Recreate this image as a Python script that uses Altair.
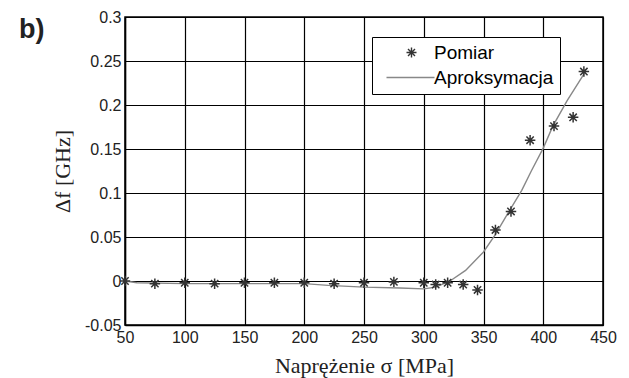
import altair as alt
import pandas as pd

# measured points (Pomiar)
meas_x = [50, 75, 100, 125, 150, 175, 200, 225, 250, 275, 300, 310, 320, 333, 345, 360, 373, 389, 409, 425, 434]
meas_y = [0.0, -0.003, -0.002, -0.003, -0.002, -0.002, -0.002, -0.003, -0.002, -0.001, -0.002, -0.004, -0.002, -0.004, -0.0102, 0.058, 0.079, 0.160, 0.176, 0.186, 0.238]

# approximation curve (Aproksymacja)
fit_x = [50, 60, 100, 150, 200, 220, 250, 280, 300, 310, 322, 335, 350, 360, 370, 382, 390, 400, 408, 420, 434]
fit_y = [0.0, -0.002, -0.003, -0.003, -0.003, -0.005, -0.007, -0.008, -0.009, -0.007, 0.0, 0.012, 0.033, 0.053, 0.076, 0.103, 0.125, 0.151, 0.176, 0.205, 0.235]

x_ticks = [50, 100, 150, 200, 250, 300, 350, 400, 450]
y_ticks = [-0.05, 0, 0.05, 0.1, 0.15, 0.2, 0.25, 0.3]
series = ["Pomiar", "Aproksymacja"]

meas = pd.DataFrame({"x": meas_x, "y": meas_y, "s": "Pomiar"})
fit = pd.DataFrame({"x": fit_x, "y": fit_y})

STAR = "M0,-1L0,1M-1,0L1,0M-0.7,-0.7L0.7,0.7M-0.7,0.7L0.7,-0.7"
LINE = "M-5,0L4.6,0"

xs = alt.Scale(domain=[50, 450], nice=False, zero=False)
ys = alt.Scale(domain=[-0.05, 0.3], nice=False, zero=False)

YLAB = "datum.value < 0 ? '-' + format(-datum.value, '~g') : format(datum.value, '~g')"

xax = alt.Axis(values=x_ticks, title="Naprężenie σ [MPa]", grid=True, gridColor="black",
               gridWidth=1.2, gridOpacity=1, domainColor="black", domainWidth=1.5,
               tickColor="black", tickSize=0, labelFont="Liberation Sans", labelFontSize=16,
               labelColor="#222", labelPadding=4, labelFlush=False,
               titleFont="Liberation Serif", titleFontSize=22,
               titleFontWeight="normal", titleColor="#222", titlePadding=10, format="d")
yax = alt.Axis(values=y_ticks, title="Δf [GHz]", grid=True, gridColor="black",
               gridWidth=1.2, gridOpacity=1, domainColor="black", domainWidth=1.5,
               tickColor="black", tickSize=0, labelFont="Liberation Sans", labelFontSize=16,
               labelColor="#222", labelPadding=4, labelFlush=False,
               titleFont="Liberation Serif", titleFontSize=22,
               titleFontWeight="normal", titleColor="#222", titlePadding=10, labelExpr=YLAB)

line = alt.Chart(fit).mark_line(color="#888888", strokeWidth=1.4).encode(
    x=alt.X("x:Q", scale=xs, axis=xax),
    y=alt.Y("y:Q", scale=ys, axis=yax),
)

pts = alt.Chart(meas).mark_point(filled=False, strokeWidth=1.5, size=110, opacity=1).encode(
    x=alt.X("x:Q", scale=xs),
    y=alt.Y("y:Q", scale=ys),
    shape=alt.Shape("s:N", scale=alt.Scale(domain=series, range=[STAR, LINE]),
                    legend=alt.Legend(title=None, orient="none", legendX=247, legendY=20,
                                      fillColor="white", strokeColor="black",
                                      padding=6, symbolOffset=24, labelOffset=13,
                                      labelFont="Liberation Sans", labelFontSize=19,
                                      labelColor="black", rowPadding=5, symbolSize=100,
                                      symbolStrokeWidth=1.4)),
    color=alt.Color("s:N", scale=alt.Scale(domain=series, range=["#333333", "#888888"])),
)

chart = alt.layer(line, pts).properties(
    width=478, height=308,
    padding={"left": 117, "top": 9, "right": 18, "bottom": 53},
    autosize=alt.AutoSizeParams(type="none"),
    title=alt.TitleParams("b)", anchor="start", frame="group", dx=-106, dy=39,
                          font="Liberation Sans", fontSize=27, fontWeight="bold", color="#222"),
).configure_view(stroke="black", strokeWidth=1.5)

chart.save("out.html", embed_options={"renderer": "svg", "actions": False})
